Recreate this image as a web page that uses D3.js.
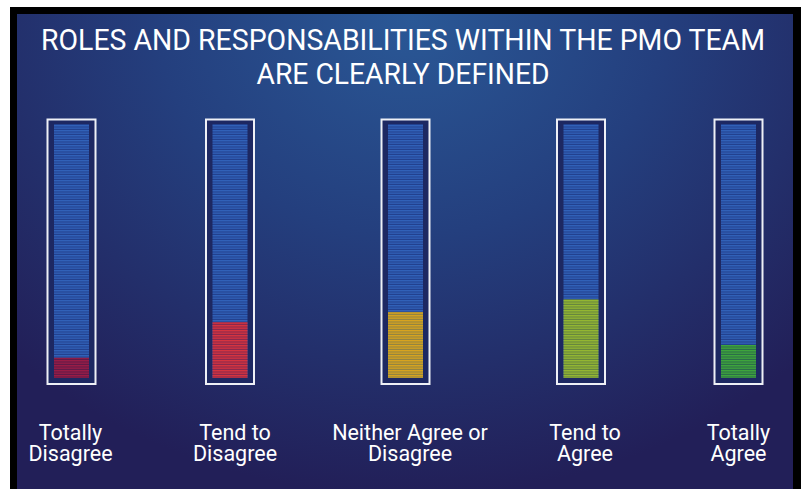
<!DOCTYPE html>
<html>
<head>
<meta charset="utf-8">
<script src="https://d3js.org/d3.v7.min.js"></script>
<style>
  body { margin: 0; background: #fff; }
  svg { display: block; }
  text { font-family: Roboto, "Open Sans", sans-serif; fill: #fff; }
</style>
</head>
<body>
<svg></svg>
<script>
// chart data
var categories = ["Totally Disagree", "Tend to Disagree", "Neither Agree or Disagree", "Tend to Agree", "Totally Agree"];
var labelLines = [["Totally", "Disagree"], ["Tend to", "Disagree"], ["Neither Agree or", "Disagree"], ["Tend to", "Agree"], ["Totally", "Agree"]];
var values = [8, 22, 26, 31, 13];   // percent of answers
var lineColors = ["#9c1c46", "#d8343e", "#d8a41e", "#95b832", "#3fa63b"];
var gapColors  = ["#5e1a48", "#84284e", "#8e8244", "#64843f", "#2a6a4a"];
var titleLines = ["ROLES AND RESPONSABILITIES WITHIN THE PMO TEAM", "ARE CLEARLY DEFINED"];
var titleWidths = [724, 293];

var width = 809, height = 489;
var svg = d3.select("svg").attr("width", width).attr("height", height);
var defs = svg.append("defs");

// background gradient
var grad = defs.append("radialGradient")
  .attr("id", "bg")
  .attr("gradientUnits", "userSpaceOnUse")
  .attr("cx", 410).attr("cy", 20).attr("r", 560)
  .attr("gradientTransform", "translate(410,20) scale(1,0.85) translate(-410,-20)");
grad.append("stop").attr("offset", "0%").attr("stop-color", "#2a5896");
grad.append("stop").attr("offset", "45%").attr("stop-color", "#243f7e");
grad.append("stop").attr("offset", "100%").attr("stop-color", "#221f58");

// striped fills
function stripes(id, line, gap) {
  var p = defs.append("pattern")
    .attr("id", id)
    .attr("patternUnits", "userSpaceOnUse")
    .attr("width", 10).attr("height", 2.5);
  p.append("rect").attr("width", 10).attr("height", 2.5).attr("fill", gap);
  p.append("rect").attr("width", 10).attr("height", 1.4).attr("fill", line);
}
stripes("st-blue", "#3262b9", "#213f8c");
categories.forEach(function(c, i) { stripes("st-" + i, lineColors[i], gapColors[i]); });

// frame
svg.append("rect").attr("x", 10).attr("y", 7).attr("width", 791).attr("height", height - 7).attr("fill", "#000");
svg.append("rect").attr("x", 17).attr("y", 14).attr("width", 776).attr("height", height - 14).attr("fill", "url(#bg)");

// title
svg.append("g").selectAll("text")
  .data(titleLines).enter().append("text")
  .attr("x", 403)
  .attr("y", function(d, i) { return 50 + i * 34; })
  .attr("text-anchor", "middle")
  .attr("textLength", function(d, i) { return titleWidths[i]; })
  .attr("lengthAdjust", "spacingAndGlyphs")
  .style("font-size", "30px")
  .text(function(d) { return d; });

// scales
var x = d3.scaleOrdinal().domain(categories).range([71.5, 230, 405.5, 581, 738.5]);
var xLabel = d3.scaleOrdinal().domain(categories).range([70.5, 235, 410, 585, 738.5]);
var y = d3.scaleLinear().domain([0, 100]).range([378, 124]);
var innerW = 35, outerW = 48;

var tube = svg.append("g").selectAll("g")
  .data(categories).enter().append("g");

tube.append("rect")
  .attr("x", function(d) { return x(d) - outerW / 2; })
  .attr("y", y(100) - 4.5)
  .attr("width", outerW)
  .attr("height", y(0) - y(100) + 10.5)
  .attr("fill", "#1d2862")
  .attr("stroke", "#eef0f6")
  .attr("stroke-width", 2);

tube.append("rect")
  .attr("x", function(d) { return x(d) - innerW / 2; })
  .attr("y", y(100))
  .attr("width", innerW)
  .attr("height", y(0) - y(100))
  .attr("fill", "url(#st-blue)");

tube.append("rect")
  .attr("x", function(d) { return x(d) - innerW / 2; })
  .attr("y", function(d, i) { return y(values[i]); })
  .attr("width", innerW)
  .attr("height", function(d, i) { return y(0) - y(values[i]); })
  .attr("fill", function(d, i) { return "url(#st-" + i + ")"; });

// category labels
var lab = svg.append("g").selectAll("text")
  .data(categories).enter().append("text")
  .attr("y", 440)
  .attr("text-anchor", "middle")
  .style("font-size", "21.5px");
lab.selectAll("tspan")
  .data(function(d, i) { return labelLines[i].map(function(t) { return { cat: d, t: t }; }); })
  .enter().append("tspan")
  .attr("x", function(d) { return xLabel(d.cat); })
  .attr("dy", function(d, j) { return j ? 21 : 0; })
  .text(function(d) { return d.t; });
</script>
</body>
</html>
